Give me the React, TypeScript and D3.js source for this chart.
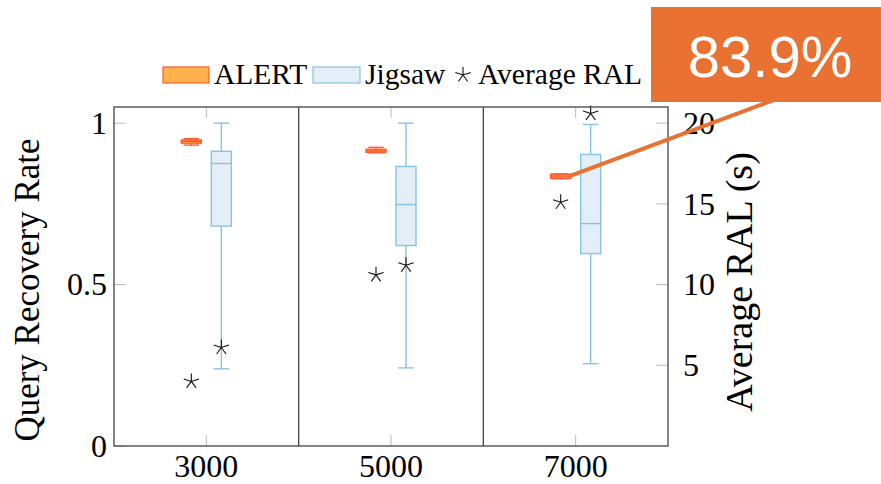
import React from "react";
import * as d3 from "d3";

// x categories (query count)
const categories = ["3000", "5000", "7000"];

// box stats: [min, q1, median, q3, max] of the recovery rate
const alertBoxes = [
  [0.932, 0.938, 0.944, 0.948, 0.952],
  [0.908, 0.91, 0.914, 0.919, 0.925],
  [0.828, 0.829, 0.836, 0.842, 0.843],
];
const jigsawBoxes = [
  [0.239, 0.681, 0.875, 0.913, 1.0],
  [0.242, 0.621, 0.748, 0.866, 1.0],
  [0.255, 0.596, 0.689, 0.903, 0.996],
];

// average RAL in seconds (right axis)
const alertRAL = [4.0, 10.6, 15.1];
const jigsawRAL = [6.1, 11.2, 20.6];

const leftTicks = [0, 0.5, 1];
const rightTicks = [5, 10, 15, 20];
const calloutText = "83.9%";

const W = 881;
const H = 484;
const margin = { top: 107, right: 213, bottom: 38, left: 114 };
const serif = "Liberation Serif, Times New Roman, serif";
const sans = "Liberation Sans, Arial, sans-serif";

const alertFill = "#FFB24C";
const alertStroke = "#FF5A2E";
const jigFill = "#E3EEF7";
const jigStroke = "#88C2E5";
const callout = "#E97132";

function starPath(cx: number, cy: number, r: number) {
  let p = "";
  for (let k = 0; k < 5; k++) {
    const a = ((90 + 72 * k) * Math.PI) / 180;
    p += `M${cx},${cy}L${cx + r * Math.cos(a)},${cy - r * Math.sin(a)}`;
  }
  return p;
}

function Box({ cx, s, y, fill, stroke, bw }: any) {
  const [mn, q1, md, q3, mx] = s;
  const cap = bw * 0.78;
  return (
    <g stroke={stroke} strokeWidth={1.4}>
      <line x1={cx} x2={cx} y1={y(mx)} y2={y(q3)} />
      <line x1={cx} x2={cx} y1={y(q1)} y2={y(mn)} />
      <line x1={cx - cap / 2} x2={cx + cap / 2} y1={y(mx)} y2={y(mx)} />
      <line x1={cx - cap / 2} x2={cx + cap / 2} y1={y(mn)} y2={y(mn)} />
      <rect x={cx - bw / 2} y={y(q3)} width={bw} height={Math.max(y(q1) - y(q3), 1)} fill={fill} />
      <line x1={cx - bw / 2} x2={cx + bw / 2} y1={y(md)} y2={y(md)} />
    </g>
  );
}

export default function App() {
  const x0 = margin.left;
  const x1 = W - margin.right;
  const yTop = margin.top;
  const yBot = H - margin.bottom;

  const x = d3.scaleBand().domain(categories).range([x0, x1]).padding(0);
  const yL = d3.scaleLinear().domain([0, 1.05]).range([yBot, yTop]);
  const yR = d3.scaleLinear().domain([0, 21]).range([yBot, yTop]);
  const off = 15;
  const bw = 20;
  const cxOf = (c: string) => (x(c) as number) + x.bandwidth() / 2;

  // callout anchor: right end of the ALERT box at 7000
  const ax = cxOf(categories[2]) - off + bw / 2;
  const ay = yL(alertBoxes[2][2]);

  const tickStyle = { fontFamily: serif, fontSize: 32 };
  const legStyle = { fontFamily: serif, fontSize: 29.5 };

  return (
    <svg width={W} height={H} style={{ position: "absolute", left: 0, top: 0, background: "#fff" }}>
      {/* ticks */}
      <g stroke="#bbb" strokeWidth={1}>
        {leftTicks.map((t) => (
          <line key={"l" + t} x1={x0} x2={x0 + 12} y1={yL(t)} y2={yL(t)} />
        ))}
        {rightTicks.map((t) => (
          <line key={"r" + t} x1={x1 - 12} x2={x1} y1={yR(t)} y2={yR(t)} />
        ))}
        {categories.map((c) => (
          <g key={"t" + c}>
            <line x1={cxOf(c)} x2={cxOf(c)} y1={yBot} y2={yBot - 11} />
            <line x1={cxOf(c)} x2={cxOf(c)} y1={yTop} y2={yTop + 11} />
          </g>
        ))}
      </g>

      {/* boxes */}
      {categories.map((c, i) => (
        <g key={c}>
          <Box cx={cxOf(c) - off} s={alertBoxes[i]} y={yL} fill={alertFill} stroke={alertStroke} bw={bw} />
          <Box cx={cxOf(c) + off} s={jigsawBoxes[i]} y={yL} fill={jigFill} stroke={jigStroke} bw={bw} />
          <path d={starPath(cxOf(c) - off, yR(alertRAL[i]), 8)} stroke="#111" strokeWidth={1.1} />
          <path d={starPath(cxOf(c) + off, yR(jigsawRAL[i]), 8)} stroke="#111" strokeWidth={1.1} />
        </g>
      ))}

      {/* frame and group separators */}
      <rect x={x0} y={yTop} width={x1 - x0} height={yBot - yTop} fill="none" stroke="#444" strokeWidth={1.3} />
      {categories.slice(1).map((c) => (
        <line key={"s" + c} x1={x(c)} x2={x(c)} y1={yTop} y2={yBot} stroke="#444" strokeWidth={1.3} />
      ))}

      {/* tick labels */}
      {leftTicks.map((t) => (
        <text key={"lt" + t} x={x0 - 7} y={yL(t)} dy="0.34em" textAnchor="end" style={tickStyle}>
          {d3.format("~g")(t)}
        </text>
      ))}
      {rightTicks.map((t) => (
        <text key={"rt" + t} x={x1 + 15} y={yR(t)} dy="0.34em" style={tickStyle}>
          {t}
        </text>
      ))}
      {categories.map((c) => (
        <text key={"xt" + c} x={cxOf(c)} y={yBot + 31} textAnchor="middle" style={tickStyle}>
          {c}
        </text>
      ))}

      {/* axis titles */}
      <text transform="translate(39,290) rotate(-90)" textAnchor="middle" style={{ fontFamily: serif, fontSize: 35 }}>
        Query Recovery Rate
      </text>
      <text transform="translate(752,282) rotate(-90)" textAnchor="middle" style={{ fontFamily: serif, fontSize: 38 }}>
        Average RAL (s)
      </text>

      {/* legend */}
      <rect x={163} y={67} width={46} height={16} fill={alertFill} stroke={alertStroke} strokeWidth={1.2} />
      <text x={214} y={84} style={legStyle}>ALERT</text>
      <rect x={313} y={67} width={47} height={16} fill={jigFill} stroke={jigStroke} strokeWidth={1.2} />
      <text x={365} y={84} style={legStyle}>Jigsaw</text>
      <path d={starPath(463, 75, 8)} stroke="#111" strokeWidth={1.1} />
      <text x={478} y={84} style={legStyle}>Average RAL</text>

      {/* callout */}
      <line x1={ax - 1} y1={ay} x2={774} y2={100} stroke={callout} strokeWidth={4} />
      <rect x={651} y={7} width={W - 651} height={95} fill={callout} />
      <text x={770} y={77} textAnchor="middle" fill="#fff" style={{ fontFamily: sans, fontSize: 58 }}>
        {calloutText}
      </text>
    </svg>
  );
}
